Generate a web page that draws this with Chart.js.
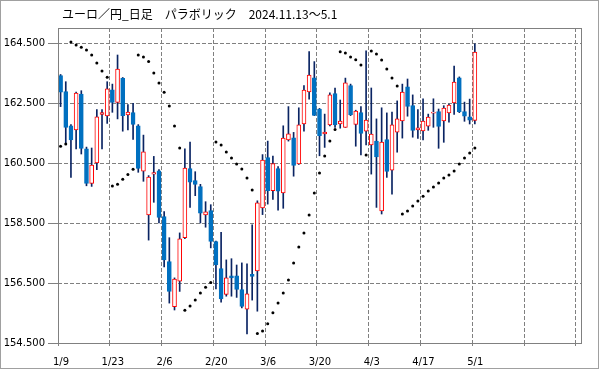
<!DOCTYPE html>
<html>
<head>
<meta charset="utf-8">
<script src="https://cdn.jsdelivr.net/npm/chart.js@4.4.1/dist/chart.umd.min.js"></script>
<style>
  html, body { margin: 0; padding: 0; background: #fff; }
  #wrap { width: 599px; height: 369px; position: relative; }
</style>
</head>
<body>
<div id="wrap"><canvas id="myChart" width="599" height="369"></canvas></div>
<script>
// EUR/JPY daily candles, 1/9 .. 5/1 (index = trading day)
const openV  = [163.41,162.88,161.74,161.60,162.80,160.97,159.82,160.50,162.12,162.07,
                162.94,162.52,163.32,162.10,162.18,161.74,160.23,158.77,160.13,160.24,
                158.71,157.21,155.71,156.56,158.01,160.31,159.91,159.71,158.77,158.91,
                157.88,156.98,156.12,156.74,156.74,156.28,155.63,156.79,156.90,159.00,
                160.68,159.58,160.31,159.50,161.27,161.34,160.47,161.80,162.87,163.34,
                162.30,161.47,161.77,162.81,161.80,161.69,163.08,161.79,162.18,161.56,
                161.10,161.23,158.90,161.28,160.26,161.53,161.90,163.04,162.41,161.60,
                161.57,161.73,162.16,162.21,161.90,162.17,162.50,163.34,162.21,162.04,
                161.92];
const highV  = [163.45,163.21,161.78,162.86,162.91,161.03,161.00,162.28,162.28,163.21,
                163.13,164.10,163.35,162.45,162.49,161.78,161.43,160.08,160.72,160.28,
                158.88,158.01,156.67,158.17,160.97,161.20,160.21,159.79,159.21,159.11,
                157.90,158.19,157.27,157.31,157.10,157.17,157.14,158.44,159.24,160.78,
                161.23,160.73,160.38,161.74,162.38,161.52,162.34,163.08,164.21,163.88,
                162.32,162.13,162.84,163.00,162.60,163.33,163.13,162.26,162.38,164.24,
                163.00,161.97,162.34,162.17,162.20,162.57,163.13,163.30,162.77,162.28,
                162.64,162.13,162.64,162.30,162.41,162.46,163.73,163.37,162.53,162.63,
                164.47];
const lowV   = [162.38,161.17,160.02,160.97,160.80,159.74,159.72,160.28,160.97,161.82,
                162.19,161.97,161.56,161.60,161.29,160.19,159.89,157.93,159.19,158.50,
                157.04,155.83,155.60,156.22,157.98,159.02,159.41,158.50,158.36,157.67,
                156.30,155.86,156.06,156.06,156.02,155.67,154.80,155.93,155.56,158.78,
                159.13,159.29,158.93,158.99,161.23,160.06,160.45,161.56,162.63,162.08,
                160.74,161.02,161.74,161.69,161.66,161.69,162.08,161.06,160.77,161.10,
                160.13,159.02,158.80,160.02,159.46,160.86,161.33,162.06,161.36,161.32,
                161.27,161.59,161.69,160.99,161.19,161.86,162.12,162.18,161.89,161.80,
                161.80];
const closeV = [162.86,161.69,161.27,162.83,160.99,159.82,160.43,162.04,162.18,162.97,
                162.52,163.63,162.08,162.20,161.79,160.32,160.87,160.03,160.18,158.69,
                157.27,156.22,156.63,157.97,160.33,159.86,159.79,158.83,158.87,157.89,
                157.10,155.97,156.67,156.67,156.29,155.72,156.14,156.72,159.17,160.60,
                159.58,160.48,159.56,161.33,161.47,160.42,161.77,162.93,163.43,162.09,
                161.41,161.53,162.77,161.77,161.90,163.17,162.11,162.23,161.49,161.93,
                161.46,160.70,161.20,160.22,161.77,161.97,162.86,162.39,161.59,161.67,
                161.90,162.03,162.20,161.72,162.33,162.43,163.20,162.21,162.06,161.93,
                164.20];
// Parabolic SAR
const sarV   = [161.06,161.13,164.53,164.43,164.36,164.27,164.10,163.83,163.57,163.36,
                159.73,159.79,159.96,160.12,160.29,164.10,164.03,163.88,163.50,163.17,
                162.86,162.40,161.73,161.00,155.59,155.73,155.93,156.17,156.36,156.52,
                161.20,161.10,160.87,160.67,160.47,160.30,160.00,159.60,154.82,154.90,
                155.14,155.51,155.83,156.17,156.60,157.17,157.70,158.17,158.77,159.50,
                160.17,160.73,161.23,161.62,164.21,164.17,164.03,163.94,163.77,160.77,
                164.23,164.13,163.93,163.63,163.33,163.07,158.80,158.90,159.07,159.23,
                159.39,159.57,159.70,159.83,160.00,160.10,160.23,160.47,160.67,160.83,
                161.00];
const xTickPos = [0, 10, 20, 30, 40, 50, 60, 70, 80, 90, 100];
const xTickLabels = ['1/9', '1/23', '2/6', '2/20', '3/6', '3/20', '4/3', '4/17', '5/1', '', ''];
const yTicks = [154.5, 156.5, 158.5, 160.5, 162.5, 164.5];

const UP = '#ff0000', DOWN = '#0070c0', WICK = '#0a2463';

const bodies = [], wicks = [], sar = [];
for (let i = 0; i < openV.length; i++) {
    bodies.push({ x: i + 0.5, y: [openV[i], closeV[i]] });
    wicks.push({ x: i + 0.5, y: [lowV[i], highV[i]] });
    sar.push({ x: i + 0.5, y: sarV[i] });
}
const isUp = openV.map((o, i) => closeV[i] > o);

const frame = {
    id: 'frame',
    afterDraw(chart) {
        const { ctx, chartArea: a } = chart;
        ctx.save();
        ctx.strokeStyle = '#808080';
        ctx.lineWidth = 1;
        ctx.strokeRect(Math.round(a.left) + 0.5, Math.round(a.top) + 0.5,
            Math.round(a.right - a.left), Math.round(a.bottom - a.top));
        ctx.strokeStyle = '#a0a0a0';
        ctx.strokeRect(0.5, 0.5, chart.width - 1, chart.height - 1);
        ctx.fillStyle = '#000';
        ctx.font = '12px "Noto Sans CJK JP"';
        ctx.textBaseline = 'middle';
        ctx.fillText('ユーロ／円_日足　パラボリック　2024.11.13～5.1', 62, 14);
        ctx.restore();
    }
};

const ctx = document.getElementById('myChart');
new Chart(ctx, {
    type: 'bar',
    data: {
        datasets: [
            {
                type: 'scatter',
                data: sar,
                pointRadius: 1.5,
                pointBackgroundColor: '#000',
                pointBorderWidth: 0,
                order: 1
            },
            {
                data: bodies,
                backgroundColor: isUp.map(u => u ? '#ffffff' : DOWN),
                borderColor: isUp.map(u => u ? UP : DOWN),
                borderWidth: 1,
                borderSkipped: false,
                barThickness: 4,
                grouped: false,
                order: 2
            },
            {
                data: wicks,
                backgroundColor: WICK,
                borderWidth: 0,
                barThickness: 1,
                grouped: false,
                order: 3
            }
        ]
    },
    options: {
        responsive: false,
        animation: false,
        layout: { padding: { top: 28, right: 18, bottom: 0, left: 0 } },
        plugins: {
            legend: { display: false },
            tooltip: { enabled: false }
        },
        scales: {
            x: {
                type: 'linear',
                offset: false,
                min: 0,
                max: 101,
                afterBuildTicks: s => { s.ticks = xTickPos.map(v => ({ value: v })); },
                afterFit: s => { s.height = 26; },
                grid: { offset: false, color: '#808080', tickLength: 3, tickColor: '#808080' },
                border: { display: false, dash: [4, 2] },
                ticks: {
                    labelOffset: 3,
                    padding: 10,
                    maxRotation: 0,
                    autoSkip: false,
                    color: '#000',
                    font: { family: 'DejaVu Sans', size: 10 },
                    callback: (v, idx) => xTickLabels[idx]
                }
            },
            y: {
                min: 154.5,
                max: 165.0,
                afterBuildTicks: s => { s.ticks = yTicks.map(v => ({ value: v })); },
                afterFit: s => { s.width = 58; },
                grid: { color: '#808080', tickLength: 10 },
                border: { display: false, dash: [4, 2] },
                ticks: {
                    padding: 3,
                    color: '#000',
                    font: { family: 'DejaVu Sans', size: 10 },
                    callback: v => v.toFixed(3)
                }
            }
        }
    },
    plugins: [frame]
});
</script>
</body>
</html>
